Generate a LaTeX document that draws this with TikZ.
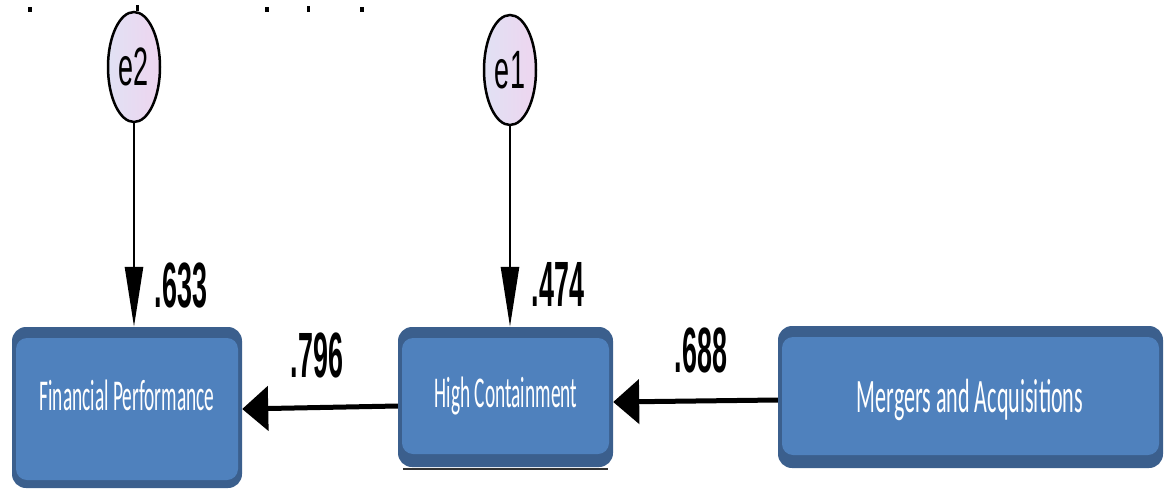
\documentclass[tikz,border=0pt]{standalone}
\usepackage{fontspec}
\usetikzlibrary{shapes.geometric,arrows.meta}
% condensed faces for the path diagram
\newfontfamily\valfont[FakeStretch=0.42]{Liberation Sans}
\newfontfamily\errfont[FakeStretch=0.5]{Liberation Sans}
\newfontfamily\boxfont[FakeStretch=0.44]{Carlito}
\newfontfamily\wideboxfont[FakeStretch=0.46]{Carlito}
\definecolor{boxfill}{HTML}{4F81BD}
\definecolor{boxedge}{HTML}{3B5F8D}
\definecolor{errleft}{HTML}{E1E1F4}
\definecolor{errright}{HTML}{EED5EF}
\begin{document}
\begin{tikzpicture}[x=1pt,y=-1pt,
  varbox/.style={rectangle, rounded corners=14pt, fill=boxedge, inner sep=0pt,
    path picture={\fill[boxfill, rounded corners=11pt]
      ([xshift=4pt,yshift=-11pt]path picture bounding box.north west) rectangle
      ([xshift=-4pt,yshift=#1]path picture bounding box.south east);}},
  varbox/.default=13pt,
  boxtext/.style={text=white, anchor=base, inner sep=0pt,
    font=\boxfont\fontsize{44}{44}\selectfont},
  wideboxtext/.style={boxtext, font=\wideboxfont\fontsize{48}{48}\selectfont},
  errnode/.style={ellipse, draw=black, line width=2.5pt, inner sep=0pt,
    left color=errleft, right color=errright,
    minimum width=52pt, minimum height=110pt,
    font=\errfont\fontsize{54}{54}\selectfont},
  coef/.style={inner sep=0pt, font=\valfont\bfseries\fontsize{64}{64}\selectfont},
  vpath/.style={line width=2.6pt, -{Triangle[length=60pt,width=18pt]}},
  hpath/.style={line width=5pt, -{Triangle[length=26pt,width=44pt]}},
  tick/.style={fill=black}
]
\useasboundingbox (0,0) rectangle (1171,490);

% stray marks along the top edge
\fill[tick] (28,7) rectangle (32,12);
\fill[tick] (136,5) rectangle (139,11);
\fill[tick] (265,7) rectangle (269,12);
\fill[tick] (307,6) rectangle (310,12);
\fill[tick] (360,7) rectangle (364,12);

% observed variables
\node[varbox=8pt, minimum width=230pt, minimum height=161pt] (FP) at (127,407.5) {};
\node[varbox, minimum width=215pt, minimum height=140pt] (HC) at (505.5,397) {};
\node[varbox, minimum width=385pt, minimum height=142pt] (MA) at (970.5,397) {};
\draw[line width=2pt, black!80] ([xshift=5pt,yshift=-1.5pt]HC.south west) -- ([xshift=-5pt,yshift=-1.5pt]HC.south east);

\node[boxtext] (FPt) at (127,410) {Financial Performance};
\node[boxtext] (HCt) at (506,407) {High Containment};
\node[wideboxtext] (MAt) at (970,412) {Mergers and Acquisitions};

% error terms
\node[errnode] (e2) at (134,67) {e2};
\node[errnode] (e1) at (510,70) {e1};

% paths
\draw[vpath] (e2.south) -- (e2.south |- FP.north);
\draw[vpath] (e1.south) -- (e1.south |- HC.north);
\draw[hpath] ([yshift=-9pt]HC.west) -- ([yshift=-1.5pt]FP.east);
\draw[hpath] ([yshift=-3pt]MA.west) -- ([yshift=-5pt]HC.east);

% coefficients
\node[coef] (c633) at (181,286) {.633};
\node[coef] (c474) at (558,284) {.474};
\node[coef] (c796) at (317,355) {.796};
\node[coef] (c688) at (701,350) {.688};
\end{tikzpicture}
\end{document}
